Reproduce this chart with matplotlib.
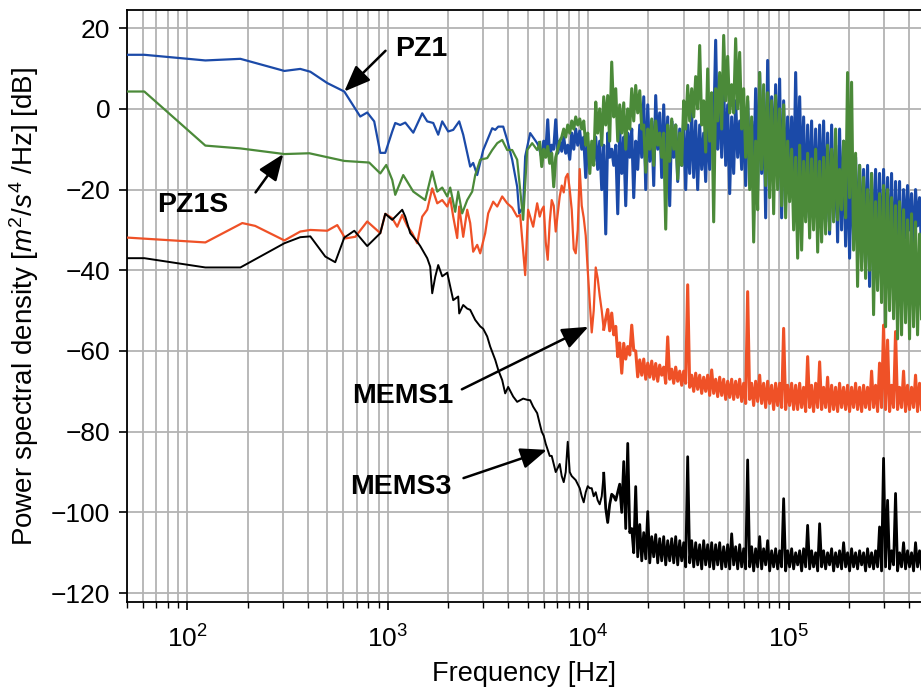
import matplotlib
matplotlib.use("Agg")
import matplotlib.pyplot as plt
import numpy as np

plt.rcParams['font.family'] = ['Liberation Sans', 'DejaVu Sans']
plt.rcParams['mathtext.fontset'] = 'custom'
plt.rcParams['mathtext.rm'] = 'Liberation Sans'
plt.rcParams['mathtext.it'] = 'Liberation Sans:italic'

# low-frequency part of each spectrum (Hz, dB)
blue_f_low = [50.2, 61, 123, 184, 305, 366, 411, 499, 607, 729, 790, 856, 918, 972, 1053, 1090, 1154,
              1223, 1341, 1486, 1574, 1687, 1786, 1870, 2003, 2122, 2273, 2380, 2579, 2669, 2795, 2995,
              3321, 3439, 3560, 3769, 3945, 4178, 4424, 4527, 4740, 4851, 5137, 5567]
blue_db_low = [13.4, 13.4, 12.0, 12.4, 9.4, 9.9, 9.2, 6.4, 4.3, -1.9, -0.9, -3.1, -10.9, -10.9, -5.6, -3.5,
               -4.0, -3.4, -5.9, -1.1, -3.1, -3.5, -6.4, -3.1, -5.6, -5.2, -3.1, -6.4, -14.3, -13.4, -16.4,
               -10.2, -4.8, -5.2, -4.4, -4.4, -7.7, -12.6, -19.3, -25.9, -24.2, -11.8, -6.0, -8.5]

green_f_low = [50.2, 61, 123, 184, 305, 406, 607, 808, 918, 983, 1053, 1090, 1195, 1341, 1538, 1667, 1766,
               1870, 1981, 2050, 2171, 2247, 2352, 2492, 2639, 2732, 2893, 3135, 3321, 3518, 3725, 3945,
               4178, 4424, 4740, 4964, 5256, 5567]
green_db_low = [4.3, 4.3, -9.1, -9.8, -11.2, -11.0, -12.9, -13.3, -16.0, -13.9, -17.6, -21.3, -16.4, -20.5,
                -22.6, -15.5, -20.5, -19.5, -21.7, -19.5, -25.5, -20.5, -25.9, -22.6, -20.5, -16.4, -12.6,
                -12.2, -10.2, -8.5, -7.7, -10.2, -10.2, -12.6, -27.5, -10.2, -8.5, -10.2]

red_f_low = [50.2, 123, 188, 218, 305, 366, 411, 499, 560, 614, 689, 790, 918, 972, 1053, 1115, 1181, 1251,
             1325, 1403, 1486, 1574, 1667, 1766, 1870, 1981, 2050, 2122, 2221, 2273, 2380, 2492, 2579, 2669,
             2795, 2893, 3064, 3171, 3359, 3518, 3725, 3945, 4178, 4424, 4580, 4851, 5017, 5317, 5567]
red_db_low = [-31.9, -33.1, -28.3, -29.0, -32.6, -30.4, -30.0, -30.2, -28.8, -32.1, -31.7, -27.9, -30.8,
              -26.0, -27.1, -29.2, -26.3, -29.0, -30.8, -33.3, -26.7, -25.0, -19.7, -23.4, -22.6, -24.2,
              -22.1, -26.7, -32.0, -24.2, -31.7, -25.0, -28.3, -35.4, -33.7, -35.8, -30.8, -25.9, -23.0,
              -24.2, -21.7, -23.4, -24.5, -26.7, -26.3, -41.2, -25.0, -29.2, -23.4]

black_f_low = [50.2, 61, 123, 184, 305, 366, 411, 488, 547, 607, 681, 790, 918, 972, 1053, 1103, 1181, 1223,
               1295, 1403, 1453, 1574, 1629, 1667, 1726, 1786, 1870, 1981, 2050, 2122, 2247, 2273, 2380,
               2492, 2579, 2732, 2893, 2995, 3135, 3245, 3439, 3560, 3725, 3855, 3990, 4227, 4424, 4580,
               4740, 4964, 5137, 5317, 5567]
black_db_low = [-37.0, -37.0, -39.3, -39.3, -33.3, -31.8, -31.6, -36.6, -38.0, -31.9, -30.2, -34.0, -30.8,
                -26.0, -27.5, -26.5, -25.0, -26.7, -30.8, -32.9, -34.0, -37.0, -39.1, -45.7, -41.6, -38.7,
                -41.5, -40.6, -44.0, -47.4, -46.5, -50.7, -48.6, -49.5, -49.8, -52.3, -53.9, -54.5, -56.4,
                -58.9, -62.2, -64.7, -67.2, -70.5, -68.9, -71.3, -72.6, -72.2, -71.8, -72.1, -72.2, -73.8,
                -75.4]

# dense high-frequency part: upper edge of the noise band at freq_hi,
# lower edge at freq_mid (each freq_mid lies between two freq_hi samples)
freq_hi = [5733, 6002, 6285, 6580, 6890, 7214, 7553, 7909, 8281, 8670, 9078, 9505, 9953, 10420, 10910,
           11420, 11960, 12520, 13110, 13730, 14370, 15050, 15760, 16500, 17270, 18090, 18940, 19830,
           20760, 21730, 22750, 23820, 24940, 26120, 27340, 28630, 29970, 31380, 32860, 34400, 36020,
           37710, 39480, 41340, 43280, 45320, 47450, 49680, 52010, 54460, 57020, 59700, 62500, 65440,
           68510, 71730, 75110, 78640, 82330, 86200, 90250, 94500, 98940, 103600, 108500, 113600, 118900,
           124500, 130300, 136500, 142900, 149600, 156600, 164000, 171700, 179700, 188200, 197000, 206300,
           216000, 226200, 236800, 247900, 259600, 271800, 284500, 297900, 311900, 326600, 341900, 358000,
           374800, 392400, 410900, 430200, 450400]
freq_mid = [5867, 6142, 6431, 6733, 7050, 7382, 7729, 8093, 8474, 8872, 9290, 9726, 10190, 10660, 11160,
            11690, 12240, 12810, 13420, 14050, 14710, 15400, 16130, 16880, 17670, 18510, 19380, 20290,
            21240, 22240, 23280, 24380, 25520, 26730, 27980, 29300, 30670, 32110, 33630, 35200, 36860,
            38590, 40400, 42300, 44290, 46380, 48560, 50840, 53220, 55730, 58350, 61090, 63960, 66970,
            70110, 73400, 76860, 80470, 84250, 88210, 92350, 96700, 101200, 106000, 111000, 116200, 121700,
            127400, 133300, 139700, 146200, 153100, 160200, 167800, 175700, 183900, 192600, 201600, 211100,
            221000, 231500, 242300, 253700, 265600, 278100, 291100, 304800, 319200, 334200, 349900, 366300,
            383500, 401500, 420500, 440200, 460900]

blue_db_hi = [-10, -8, -2.7, -9, -2.7, -8,
              -7, -9, -6, -5, -5.5, -7, -8,
              -9, -7, -8, -9, -6, -10, -9, -5, -7, -6, -5, -8,
              -4, 3, 1, -3, 3.3, -1, 1, -2, -3, -4, -5, -3, -4, -1, -3, -4,
              -6, -2, 2, 17, 4, 6, 1, -2, 2, -3,
              -1, 2, -3, 5, 9, 4, 12, 3, 6, 7.4, 2, -2,
              -2, 9, 3, -2, -4, -3, -5, -4,
              -3, -6, -4, -9, -5, -8, -10, -12, -12, -14,
              -15, -14, -16, -15, -16, -15, -17, -16, -18,
              -18, -20, -19, -21, -20, -22]
blue_db_mid = [-12, -11, -12.6, -10, -11, -10.5,
               -11, -12.5, -10, -9, -10, -17, -14,
               -13, -15, -20, -31, -12, -14, -26, -16, -24, -12, -22, -15,
               -12, -20, -13, -19, -10, -17, -15, -24, -12, -18, -14, -20, -16, -17, -20, -15,
               -18, -15, -6, -10, -12, -14, -21, -16, -12, -15,
               -19, -14, -18, -20, -16, -27, -18, -15, -17, -27, -20, -16,
               -22, -18, -20, -27, -24, -26, -27, -25,
               -28, -31, -27, -33, -30, -34, -37, -32, -35, -38,
               -36, -44, -38, -40, -42, -37, -40, -44, -38,
               -46, -32, -30, -36, -29, -35]

green_db_hi = [-8.3, -10, -9.3, -11, -12, -8,
               -5, -4, -3, -2, -2.5, -3, -6,
               -8, 1.7, 0, 3, 3.3, 11.6, 5, 1, 1.5, 0, 5, 5.8,
               4.5, -4, -5, -2.5, -3, -6, -6, -4, -2.5, -4, -6, 2, 5.8, 5, 8, 15.7,
               2, 9.9, 4, 5, 9, 18.2, 13, 6, 17.4, 14,
               5, 3, -2, -8, 9, 6, 4, 2, 3.3, 0, 1, -8,
               -10, -12, -9, -13, -11, -12.4, -10, -13,
               -12, -9, -10, -5, -15, -8, 9, 6.6, -11, -14,
               -17, -20, -16, -23, -21, -19, -20, -22, -24,
               -23, -25, -27.5, -26, -28, -31]
green_db_mid = [-14.3, -12, -13.5, -19.3, -10, -7,
                -7, -6, -5, -4, -5, -9, -16,
                -14, -6, -9, -4, -8, -2, -8, -6, -10, -5, -3, -1,
                -5, -15.7, -10, -14, -9, -12, -29.8, -13, -10, -17.4, -14, -5, -3, -2, 0, -4,
                -10.7, -8, -28, -3, -5, 2, -1, -1, 0, -5,
                -12, -20, -33, -25, -15, -19, -22, -26, -20, -24, -27, -23,
                -30, -37, -35, -28, -32, -30, -35.5, -33,
                -31, -30, -28, -27.5, -25, -27, -22, -35, -44, -40,
                -42, -40, -51, -45, -48, -54, -50, -52, -57,
                -56, -53, -57, -54, -56, -52]

red_db_hi = [-26.7, -24.2, -37.4, -22.6, -30.4, -21.7, -20.7, -16.1, -25, -35.8, -14.9, -27, -40,
             -55.4, -39.3, -46.3, -54.6,
             -49.7, -50.6, -53.9, -58, -58.1, -58.9, -53.6, -60, -62.2, -62, -63, -62.5, -63.1, -63.5,
             -64, -56.5, -64.5, -64, -65, -65,
             -43.6, -66, -65.5, -66, -66.5, -66, -64.7, -67, -66.5, -67, -67.5, -67, -67.5, -67, -68,
             -45.3, -68, -67.5, -66, -68, -67.5, -68.5, -68, -68, -54.4, -68.5, -68, -68.5, -68, -69,
             -61.4, -68.5, -68, -62.7, -69, -66.5, -68.5, -69, -68, -69, -68.5, -69, -68, -69, -68.5,
             -69, -65, -68.5, -63, -53.6, -57.3, -68.5, -55.2, -69, -65, -68.5, -69, -66, -68]
red_db_mid = [-25, -33, -28, -24, -26, -19, -17, -20, -34.7, -30, -24, -31.4, -48, -50, -42, -50, -52,
              -55, -56, -61.4, -65.5, -62, -61, -59.8, -66.4, -66, -67, -66.5, -67, -67.5, -66, -68, -67,
              -68, -67.5, -68.5, -68,
              -69, -70, -69.5, -70.5, -70, -71, -70.5, -71.3, -71, -72, -71.5, -72, -71.5, -72.5, -73,
              -72, -73.5, -72.5, -73, -74, -73, -74.5, -73.5, -74, -74.5, -73.5, -74.5, -74.5, -74,
              -75, -74, -75, -74, -74.5, -74, -75, -74.5, -75, -74, -74.5, -75, -74, -74.5, -75, -74,
              -74.5, -74, -75, -74, -74.5, -75, -74, -74.5, -74, -75, -74.5, -74, -75, -74.5]

black_db_hi = [-78, -81, -84.5, -86, -90, -88, -92.5, -82.5, -91, -92, -94, -97.5, -93.5, -94, -95, -98,
               -90.3, -102.5, -95.5, -97, -93, -87.4, -82.9,
               -104, -93.6, -103, -105, -99.8, -106, -105.5, -106.5, -106, -107, -106.5, -106, -107,
               -107.5, -86.2, -107, -107.5, -108, -107, -108, -107.5, -108, -107.5, -108.5, -108,
               -105.3, -108.5, -108, -109, -87, -108.5, -109, -106, -109, -107, -109.5, -109, -109.5,
               -96.6, -109.5, -109, -110, -109.5, -109, -103.2, -109.5, -110, -102.8, -109.5, -110,
               -109, -110, -109.5, -107.5, -110, -109, -110, -109.5, -110, -109, -110, -109.5, -103.6,
               -86.6, -97, -109.5, -95.3, -110, -107.5, -109.5, -110, -107.5, -109.5]
black_db_mid = [-80, -83, -86, -88, -89, -91, -90, -90, -91.5, -93, -96, -95, -94, -96, -97, -96, -99,
                -98, -96, -95, -100, -104, -105,
                -110, -111, -112, -111.5, -112.5, -111, -112.5, -112, -113, -112, -112.5, -113, -112,
                -113.5, -112.5, -113.5, -113, -114, -113, -113.5, -114, -113, -114, -113.5, -114, -113,
                -114, -113.5, -114, -113.5, -114.5, -113.5, -114, -113, -114.5, -113.5, -114, -113.5,
                -114.5, -113.5, -114, -113, -114.5, -113.5, -114, -113.5, -114.5, -113.5, -114, -113,
                -114.5, -113.5, -114, -113.5, -114.5, -113.5, -114, -113, -114.5, -113.5, -114, -113.5,
                -114.5, -113.5, -114, -113, -114.5, -113.5, -114, -113.5, -114.5, -113.5, -114]

c_blue = '#1b4aa8'
c_green = '#4b8a39'
c_red = '#ef5127'
c_black = '#000000'

fig = plt.figure(figsize=(9.21, 6.91), dpi=100)
ax = fig.add_axes([127 / 921, 1 - 602 / 691, 1 - 127 / 921, (602 - 10) / 691])

f_dense = np.column_stack([freq_hi, freq_mid]).ravel()


def draw(f_low, db_low, db_hi, db_mid, n_thin, color, lw_thin, lw_band, z):
    db_dense = np.column_stack([db_hi, db_mid]).ravel()
    f = np.concatenate([f_low, f_dense])
    db = np.concatenate([db_low, db_dense])
    k = len(f_low) + 2 * n_thin  # from here on the trace is a dense noise band
    ax.plot(f[:k + 1], db[:k + 1], color=color, lw=lw_thin, zorder=z)
    ax.plot(f[k:], db[k:], color=color, lw=lw_band, zorder=z)


draw(blue_f_low, blue_db_low, blue_db_hi, blue_db_mid, 0, c_blue, 1.6, 2.2, 3)
draw(green_f_low, green_db_low, green_db_hi, green_db_mid, 0, c_green, 1.6, 2.2, 4)
draw(red_f_low, red_db_low, red_db_hi, red_db_mid, 16, c_red, 1.6, 2.2, 3)
draw(black_f_low, black_db_low, black_db_hi, black_db_mid, 16, c_black, 1.4, 2.0, 3)

ax.set_xscale('log')
ax.set_xlim(50, 4.58e5)
ax.set_ylim(-122.2, 24.5)
ax.set_yticks([-120, -100, -80, -60, -40, -20, 0, 20])

ax.grid(True, which='major', axis='both', color='#b3b3b3', lw=1.3)
ax.grid(True, which='minor', axis='x', color='#b3b3b3', lw=1.3)
ax.set_axisbelow(True)
ax.spines['right'].set_visible(False)
for s in ['left', 'bottom', 'top']:
    ax.spines[s].set_linewidth(1.3)

ax.tick_params(which='major', labelsize=19, length=6, width=1.2)
ax.tick_params(axis='y', which='major', pad=6)
ax.tick_params(axis='x', which='major', pad=11)
ax.tick_params(which='minor', length=4, width=1.0)

ax.set_xlabel('Frequency [Hz]', fontsize=19.5, labelpad=6)
ax.set_ylabel('Power spectral density [$m^2/s^4$ /Hz] [dB]', fontsize=20, labelpad=7)

arrow = dict(arrowstyle='-|>,head_length=0.8,head_width=0.32', color='black', lw=1.8,
             shrinkA=0, shrinkB=0, mutation_scale=20)
ax.annotate('', xy=(607, 4.3), xytext=(975, 14.4), arrowprops=arrow)
ax.annotate('', xy=(301, -11.2), xytext=(219, -20.7), arrowprops=arrow)
ax.annotate('', xy=(10035, -54), xytext=(2344, -69.5), arrowprops=arrow)
ax.annotate('', xy=(6223, -84.5), xytext=(2388, -91.5), arrowprops=arrow)

bold = dict(fontsize=20.5, fontweight='bold', ha='left', va='baseline')
ax.text(1089, 13.1, 'PZ1', **bold)
ax.text(70.8, -25.5, 'PZ1S', **bold)
ax.text(665, -72.9, 'MEMS1', **bold)
ax.text(650, -95.5, 'MEMS3', **bold)

fig.savefig('out.png', dpi=100)
